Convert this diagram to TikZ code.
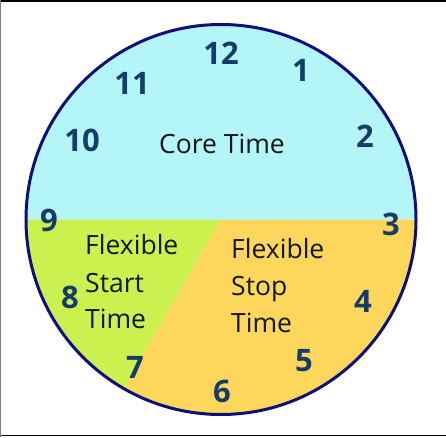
\documentclass[tikz,border=0pt]{standalone}
\usepackage{fontspec}
\setmainfont{Open Sans}
\newfontfamily\lblfont{Open Sans}
\definecolor{corecol}{RGB}{180,246,248}
\definecolor{startcol}{RGB}{202,241,78}
\definecolor{stopcol}{RGB}{252,215,92}
\definecolor{rimcol}{RGB}{14,14,124}
\definecolor{numcol}{RGB}{22,60,107}
\definecolor{txtcol}{RGB}{20,22,20}
\begin{document}
\begin{tikzpicture}[x=1pt,y=1pt,
  num/.style={font=\fontsize{31}{31}\selectfont\bfseries, text=numcol, inner sep=0pt},
  lbl/.style={font=\lblfont\fontsize{26.5}{26.5}\selectfont, text=txtcol, inner sep=0pt, anchor=base west}]
\useasboundingbox (0,0) rectangle (446,437);
% frame
\draw[black, line width=2pt] (0,436) -- (446,436);
\draw[black, line width=1.3pt] (0,1.2) -- (446,1.2);
\draw[gray, line width=1pt] (0.8,0) -- (0.8,437);
% clock face
\coordinate (c) at (221,217.5);
\fill[corecol] (c) -- ++(0:195) arc[start angle=0, end angle=180, radius=195] -- cycle;
\fill[startcol] (c) -- ++(180:195) arc[start angle=180, end angle=240, radius=195] -- cycle;
\fill[stopcol] (c) -- ++(240:195) arc[start angle=240, end angle=360, radius=195] -- cycle;
\draw[rimcol, line width=3pt] (c) circle[radius=195];
% numbers
\node[num] (n12) at (221,384) {12};
\node[num] (n1) at (301,367) {1};
\node[num] (n11) at (132,354) {11};
\node[num] (n10) at (82,297) {10};
\node[num] (n2) at (365,301) {2};
\node[num] (n9) at (49,217) {9};
\node[num] (n3) at (391,213) {3};
\node[num] (n8) at (70,140) {8};
\node[num] (n4) at (363,136) {4};
\node[num] (n7) at (135,70) {7};
\node[num] (n5) at (304,76) {5};
\node[num] (n6) at (222,46) {6};
% labels
\node[lbl, anchor=base] (core) at (222,283.5) {Core Time};
\node[lbl] (fs1) at (85,183) {Flexible};
\node[lbl] (fs2) at (85,145) {Start};
\node[lbl] (fs3) at (85,109) {Time};
\node[lbl] (ft1) at (231,179) {Flexible};
\node[lbl] (ft2) at (231,142) {Stop};
\node[lbl] (ft3) at (231,105) {Time};
\end{tikzpicture}
\end{document}
